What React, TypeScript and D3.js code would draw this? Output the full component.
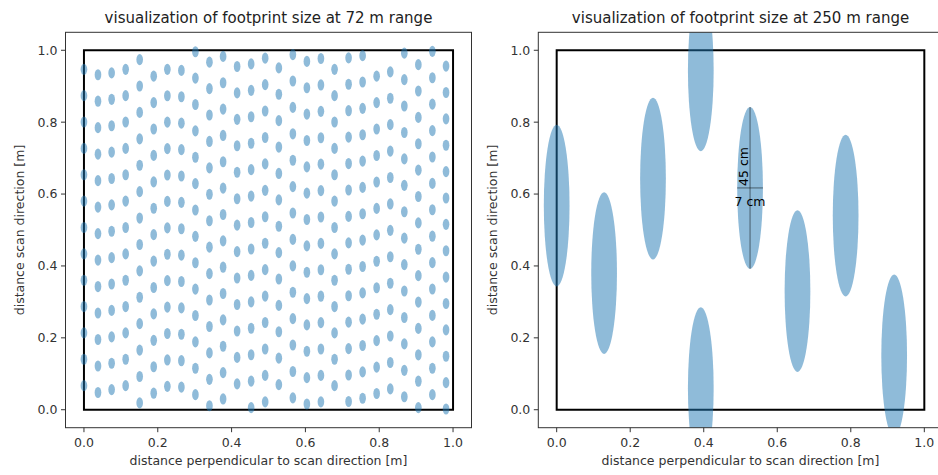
import React from "react";
import * as d3 from "d3";

// left panel (72 m): footprint centres read column by column
const leftColX = [0, 0.038, 0.075, 0.113, 0.151, 0.189, 0.226, 0.264, 0.302, 0.340, 0.377, 0.415, 0.453, 0.491,
                  0.528, 0.566, 0.604, 0.642, 0.679, 0.717, 0.755, 0.793, 0.830, 0.868, 0.906, 0.944, 0.981];
// highest and lowest footprint in each column, and how many there are
const leftColTop = [0.947, 0.932, 0.937, 0.947, 0.974, 0.928, 0.947, 0.944, 0.996, 0.967, 0.983, 0.955, 0.962, 0.978,
                    0.951, 0.988, 0.969, 0.977, 0.947, 0.979, 0.985, 0.928, 0.940, 0.992, 0.960, 0.997, 0.956];
const leftColBottom = [0.067, 0.048, 0.056, 0.067, 0.019, 0.046, 0.065, 0.063, 0.042, 0.011, 0.030, 0.072, 0.006, 0.022,
                       0.070, 0.033, 0.016, 0.022, 0.067, 0.023, 0.032, 0.045, 0.058, 0.036, 0.006, 0.042, 0.002];
const leftColCount = [13, 13, 13, 13, 14, 13, 13, 13, 14, 14, 14, 13, 14, 14,
                      13, 14, 14, 14, 13, 14, 14, 13, 13, 14, 14, 14, 14];
const leftFootprint = [0.018, 0.031]; // width, height [m]

// right panel (250 m)
const rightX = [0.0, 0.129, 0.262, 0.392, 0.392, 0.526, 0.655, 0.786, 0.918];
const rightY = [0.568, 0.38, 0.643, 0.944, 0.06, 0.617, 0.33, 0.54, 0.151];
const rightFootprint = [0.07, 0.45];

const titles = ["visualization of footprint size at 72 m range", "visualization of footprint size at 250 m range"];
const ticks = [0, 0.2, 0.4, 0.6, 0.8, 1.0];
const xLabel = "distance perpendicular to scan direction [m]";
const yLabel = "distance scan direction [m]";

const FONT = "DejaVu Sans, sans-serif";
const BLUE = "#1f77b4";

function Panel({ left, right, idx, dots, fw, fh, annotate }) {
  const top = 32.3, bottom = 427.7;
  const x = d3.scaleLinear().domain([-0.05, 1.05]).range([left, right]);
  const y = d3.scaleLinear().domain([-0.05, 1.05]).range([bottom, top]);
  const fmt = d3.format(".1f");
  const clipId = `clip${idx}`;
  const sq = d3.path();
  sq.rect(x(0), y(1), x(1) - x(0), y(0) - y(1));
  const ac = dots[5];

  return (
    <g>
      <defs>
        <clipPath id={clipId}>
          <rect x={left} y={top} width={right - left} height={bottom - top} />
        </clipPath>
      </defs>
      <g clipPath={`url(#${clipId})`}>
        <path d={sq.toString()} fill="none" stroke="#000" strokeWidth={2} />
        {dots.map((d, i) => (
          <ellipse key={i} cx={x(d[0])} cy={y(d[1])}
            rx={(x(fw) - x(0)) / 2} ry={(y(0) - y(fh)) / 2}
            fill={BLUE} fillOpacity={0.5} />
        ))}
        {annotate && (
          <g>
            <line x1={x(ac[0])} x2={x(ac[0])} y1={y(ac[1] - fh / 2)} y2={y(ac[1] + fh / 2)}
              stroke="#000" strokeOpacity={0.5} strokeWidth={1} />
            <line x1={x(ac[0] - fw / 2)} x2={x(ac[0] + fw / 2)} y1={y(ac[1])} y2={y(ac[1])}
              stroke="#000" strokeOpacity={0.5} strokeWidth={1} />
            <text transform={`translate(${x(ac[0]) - 2},${y(ac[1]) - 2}) rotate(-90)`}
              fontSize={12.5} fontFamily={FONT} fill="#000">45 cm</text>
            <text x={x(ac[0])} y={y(ac[1]) + 18} textAnchor="middle"
              fontSize={12.5} fontFamily={FONT} fill="#000">7 cm</text>
          </g>
        )}
      </g>
      <rect x={left} y={top} width={right - left} height={bottom - top}
        fill="none" stroke="#333" strokeWidth={1} />
      {ticks.map(t => (
        <g key={"x" + t}>
          <line x1={x(t)} x2={x(t)} y1={bottom} y2={bottom + 4.5} stroke="#333" />
          <text x={x(t)} y={bottom + 19.5} textAnchor="middle" fontSize={12.5} fontFamily={FONT} fill="#333">{fmt(t)}</text>
        </g>
      ))}
      {ticks.map(t => (
        <g key={"y" + t}>
          <line x1={left - 4.5} x2={left} y1={y(t)} y2={y(t)} stroke="#333" />
          <text x={left - 8} y={y(t)} dy="0.35em" textAnchor="end" fontSize={12.5} fontFamily={FONT} fill="#333">{fmt(t)}</text>
        </g>
      ))}
      <text x={(left + right) / 2} y={23} textAnchor="middle" fontSize={15} fontFamily={FONT} fill="#222">{titles[idx]}</text>
      <text x={(left + right) / 2} y={465} textAnchor="middle" fontSize={12.5} fontFamily={FONT} fill="#333">{xLabel}</text>
      <text transform={`translate(${left - 41.5},${(top + bottom) / 2}) rotate(-90)`} textAnchor="middle"
        fontSize={12.5} fontFamily={FONT} fill="#333">{yLabel}</text>
    </g>
  );
}

export default function App() {
  const leftDots = [];
  leftColX.forEach((cx, i) => {
    const n = leftColCount[i];
    const step = (leftColTop[i] - leftColBottom[i]) / (n - 1);
    for (let k = 0; k < n; k++) leftDots.push([cx, leftColBottom[i] + k * step]);
  });
  const rightDots = rightX.map((v, i) => [v, rightY[i]]);

  return (
    <div>
      <style>{`body{margin:0}`}</style>
      <svg width={938} height={475} style={{ display: "block", background: "#fff" }}>
        <Panel left={65.5} right={471.5} idx={0} dots={leftDots}
          fw={leftFootprint[0]} fh={leftFootprint[1]} annotate={false} />
        <Panel left={538.3} right={942.7} idx={1} dots={rightDots}
          fw={rightFootprint[0]} fh={rightFootprint[1]} annotate={true} />
      </svg>
    </div>
  );
}
